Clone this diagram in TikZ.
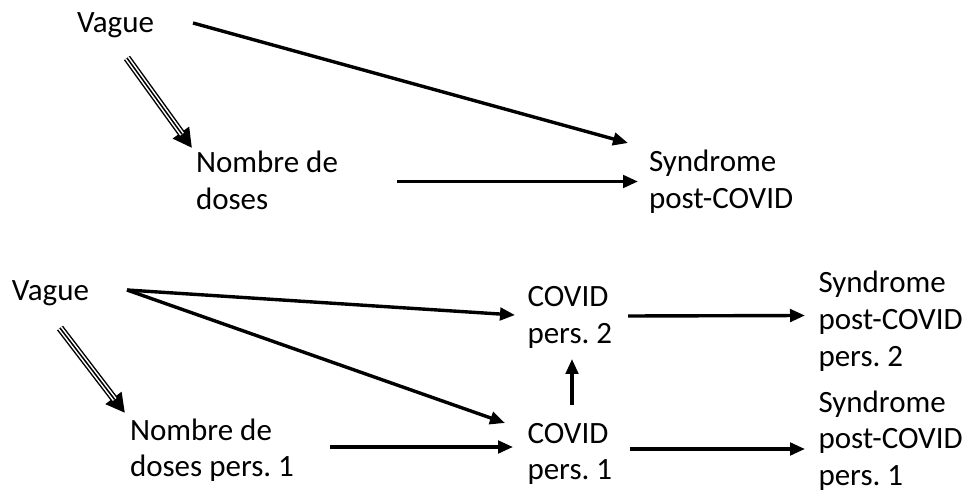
\documentclass[tikz,border=0pt]{standalone}
\usepackage{fontspec}
\setmainfont{Carlito}
\usetikzlibrary{arrows.meta,calc}
\tikzset{
  lbl/.style={anchor=base west, inner sep=0pt, outer sep=0pt, align=left,
    font=\fontsize{31pt}{36.8pt}\selectfont\frenchspacing},
  arr/.style={line width=3.4pt, -{Triangle[length=15pt,width=12.5pt]}},
  triple/.style={line width=7.5pt, -{Triangle[length=19pt,width=19pt]},
    postaction={draw, -, white, line width=4.6pt, shorten >=17pt},
    postaction={draw, -, black, line width=1.5pt, shorten >=17pt}}
}
\begin{document}
\begin{tikzpicture}[x=1pt, y=-1pt]
  \useasboundingbox[fill=white] (0,0) rectangle (972,502);

  % upper graph (nodes sit on the baseline of their last line)
  \node[lbl] (v1) at (77,33) {Vague};
  \node[lbl] (nd1) at (196,209.8) {Nombre de\\doses};
  \node[lbl] (s1) at (649,208.8) {Syndrome\\post-COVID};

  \draw[arr] ($(v1.base west)+(116,-10)$) -- ($(s1.base west)+(-21,-65.8)$);
  \draw[arr] ($(nd1.base west)+(201,-28.3)$) -- ($(s1.base west)+(-11,-27.3)$);
  \draw[triple] ($(v1.base west)+(50,25)$) -- ($(nd1.base west)+(-4,-61.8)$);

  % lower graph
  \node[lbl] (v2) at (12,301) {Vague};
  \node[lbl] (c2) at (527.5,343.8) {COVID\\pers. 2};
  \node[lbl] (s2) at (818.5,366.6) {Syndrome\\post-COVID\\pers. 2};
  \node[lbl] (nd2) at (130,476.8) {Nombre de\\doses pers. 1};
  \node[lbl] (c1) at (527.5,479.8) {COVID\\pers. 1};
  \node[lbl] (s3) at (818.5,485.6) {Syndrome\\post-COVID\\pers. 1};

  \draw[arr] ($(v2.base west)+(115,-11)$) -- ($(c2.base west)+(-12.5,-28.8)$);
  \draw[arr] ($(v2.base west)+(115,-11)$) -- ($(c1.base west)+(-22.5,-56.8)$);
  \draw[arr] ($(nd2.base west)+(200,-29.8)$) -- ($(c1.base west)+(-14.5,-32.8)$);
  \draw[arr] ($(c2.base west)+(100.5,-27.8)$) -- ($(s2.base west)+(-13.5,-51.1)$);
  \draw[arr] ($(c1.base west)+(102.5,-30.8)$) -- ($(s3.base west)+(-13.5,-36.6)$);
  \draw[arr] ($(c1.base west)+(44.5,-74.8)$) -- ($(c2.base west)+(44.5,15.2)$);
  \draw[triple] ($(v2.base west)+(48,27)$) -- ($(nd2.base west)+(-5,-63.8)$);
\end{tikzpicture}
\end{document}
